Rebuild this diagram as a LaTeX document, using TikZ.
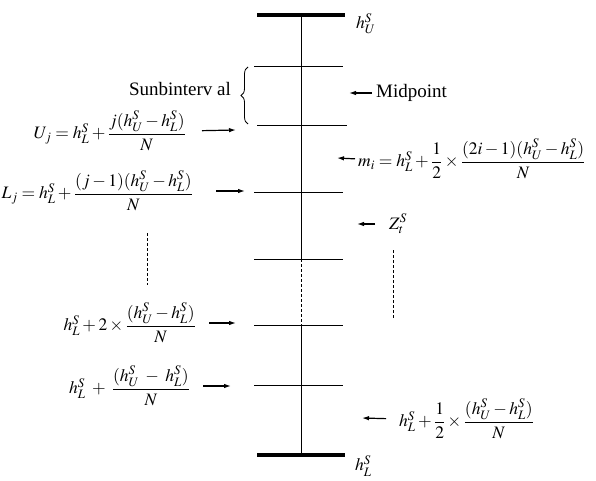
\documentclass[tikz,border=0pt]{standalone}
\usepackage{amsmath}
\usepackage{mathptmx}
\usepackage{fontspec}
\setmainfont{Liberation Serif}
\usepackage{tikz}
\usetikzlibrary{arrows.meta,calc,positioning,decorations.pathreplacing}

\begin{document}
\begin{tikzpicture}[x=1pt,y=-1pt,
      lbl/.style={inner sep=0pt,font=\fontsize{17.5}{20}\selectfont},
      word/.style={inner sep=0pt,font=\fontsize{19}{22}\selectfont},
      tick/.style={line width=0.8pt},
      bar/.style={line width=4.5pt},
      arrow/.style={-{Latex[length=7pt,width=4.5pt]},line width=1.2pt},
      dots/.style={dashed,dash pattern=on 3pt off 2pt,line width=0.8pt}
    ]
      \useasboundingbox (0,0) rectangle (596,481);
      % scale
      \coordinate (top) at (301,15);
      \coordinate (bot) at (301,455);
      \coordinate (d1) at (301,259);
      \coordinate (d2) at (301,325);
      \draw[line width=0.9pt] (top)--(d1);
      \draw[dots] (d1)--(d2);
      \draw[line width=0.9pt] (d2)--(bot);
      \draw[bar] (257,15)--(345,15);
      \draw[bar] (257,455)--(345,455);
      \draw[tick] (254,66)--(343,66);
      \draw[tick] (257,125)--(347,125);
      \draw[tick] (254,192)--(343,192);
      \draw[tick] (254,259)--(343,259);
      \draw[tick] (254,325)--(343,325);
      \draw[tick] (254,385)--(343,385);
      \node[lbl,anchor=west] (hu) at (356,24) {$h_U^S$};
      \node[lbl,anchor=west] (hl) at (355,466) {$h_L^S$};
      % subinterval
      \draw[line width=0.8pt,decorate,
        decoration={brace,amplitude=7pt}] (248,124)--(248,67);
      \node[word] (sub) at (180,89) {Sunbinterv al};
      \node[word,anchor=west] (mid) at (376,93) {Midpoint};
      \coordinate (midtip) at (349,93);
      \draw[arrow,shorten <=4pt] (mid.west)--(midtip);
      % left labels
      \node[lbl,anchor=east] (uj) at (186,131) {$U_j=h_L^S+\dfrac{j(h_U^S-h_L^S)}{N}$};
      \coordinate (ujtip) at (236,130);
      \draw[arrow,shorten <=16pt] (uj.east)--(ujtip);
      \node[lbl,anchor=east] (lj) at (193,191) {$L_j=h_L^S+\dfrac{(j-1)(h_U^S-h_L^S)}{N}$};
      \coordinate (ljtip) at (245,191);
      \draw[arrow,shorten <=23pt] (lj.east)--(ljtip);
      \draw[dots] (147,233)--(147,285);
      \node[lbl,anchor=east] (l2) at (196,323) {$h_L^S+2\times\dfrac{(h_U^S-h_L^S)}{N}$};
      \coordinate (l2tip) at (236,323);
      \draw[arrow,shorten <=13pt] (l2.east)--(l2tip);
      \node[lbl,anchor=east] (l1) at (190,386) {$h_L^S\;+\;\dfrac{(h_U^S\;-\;h_L^S)}{N}$};
      \coordinate (l1tip) at (231,386);
      \draw[arrow,shorten <=13pt] (l1.east)--(l1tip);
      % right labels
      \node[lbl,anchor=west] (mi) at (358,159) {$m_i=h_L^S+\dfrac{1}{2}\times\dfrac{(2i-1)(h_U^S-h_L^S)}{N}$};
      \coordinate (mitip) at (337,158);
      \draw[arrow,shorten <=3pt] (mi.west)--(mitip);
      \node[lbl,anchor=west] (zt) at (389,224) {$Z_t^S$};
      \coordinate (zttip) at (357,224);
      \draw[arrow,shorten <=14pt] (zt.west)--(zttip);
      \draw[dots] (393,250)--(393,318);
      \node[lbl,anchor=west] (lh) at (399,419) {$h_L^S+\dfrac{1}{2}\times\dfrac{(h_U^S-h_L^S)}{N}$};
      \coordinate (lhtip) at (362,418);
      \draw[arrow,shorten <=13pt] (lh.west)--(lhtip);
    \end{tikzpicture}
\end{document}
